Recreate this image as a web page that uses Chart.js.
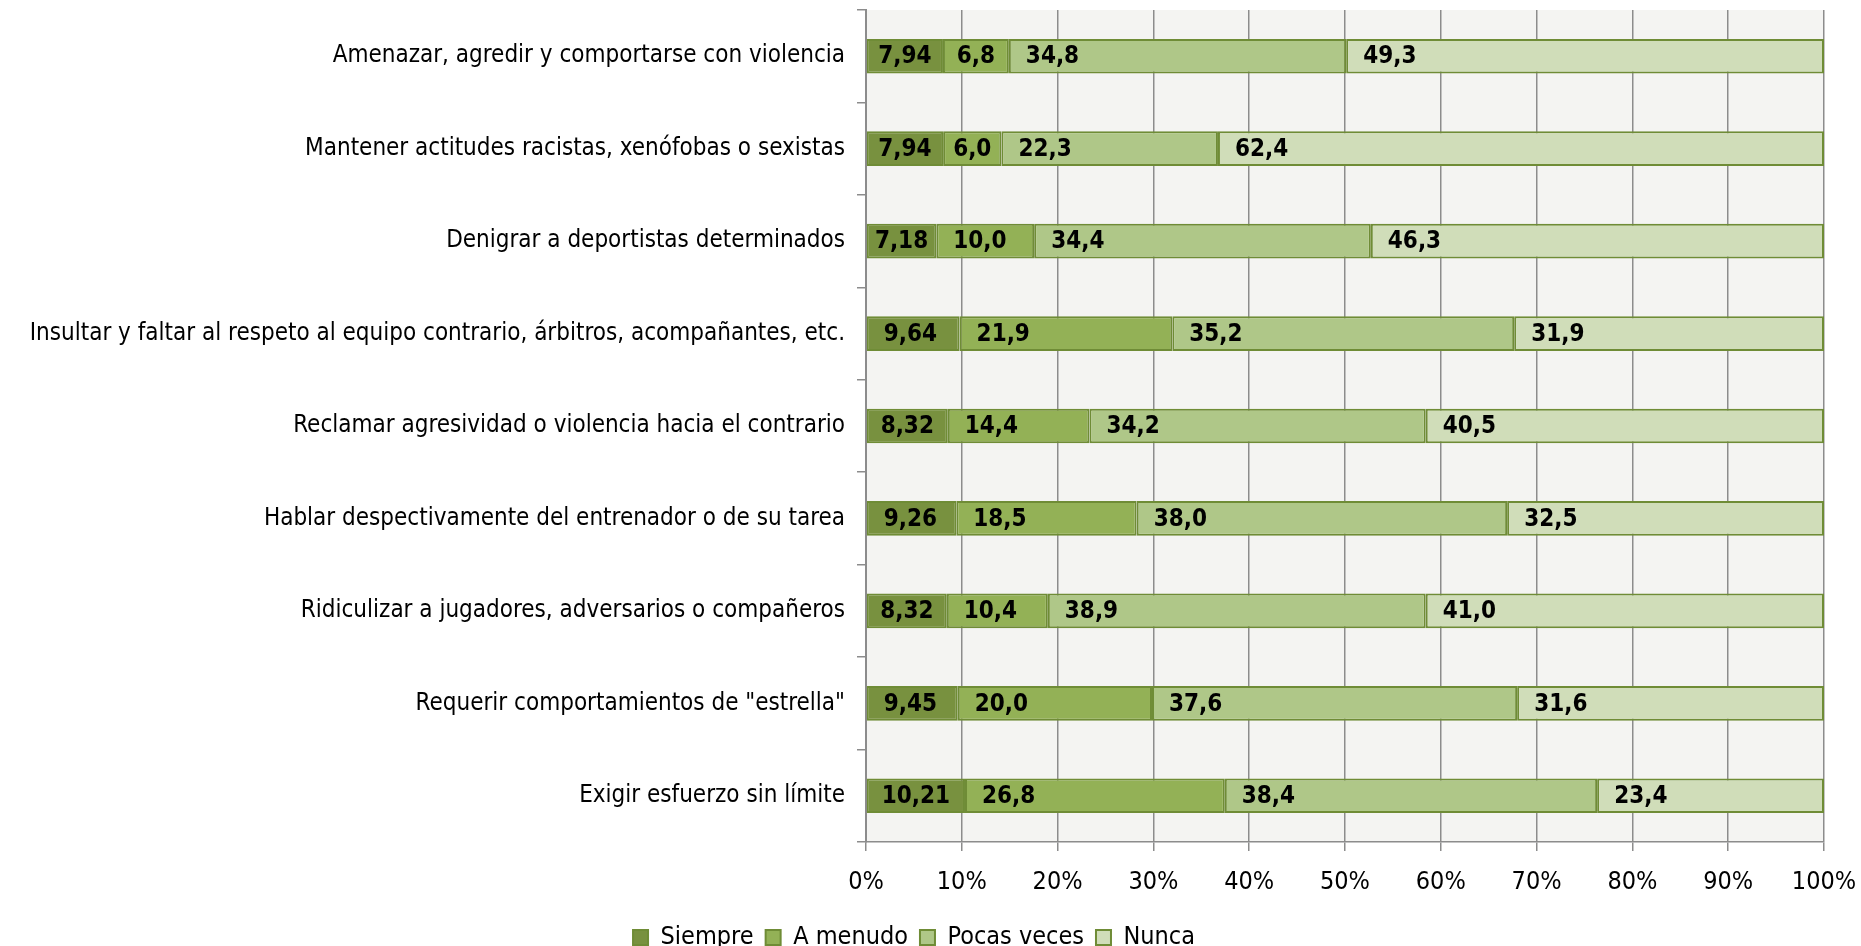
<!DOCTYPE html>
<html>
<head>
<meta charset="utf-8">
<script src="https://cdn.jsdelivr.net/npm/chart.js@4.4.0/dist/chart.umd.min.js"></script>
<style>
  html, body { margin: 0; padding: 0; background: #ffffff; }
  #wrap { width: 1861px; height: 946px; }
</style>
</head>
<body>
<div id="wrap"><canvas id="chart"></canvas></div>
<script>
const categories = [
    "Amenazar, agredir y comportarse con violencia",
    "Mantener actitudes racistas, xenófobas o sexistas",
    "Denigrar a deportistas determinados",
    "Insultar y faltar al respeto al equipo contrario, árbitros, acompañantes, etc.",
    "Reclamar agresividad o violencia hacia el contrario",
    "Hablar despectivamente del entrenador o de su tarea",
    "Ridiculizar a jugadores, adversarios o compañeros",
    "Requerir comportamientos de \"estrella\"",
    "Exigir esfuerzo sin límite"
];
const seriesNames = ["Siempre", "A menudo", "Pocas veces", "Nunca"];
const siempre    = [7.94, 7.94, 7.18, 9.64, 8.32, 9.26, 8.32, 9.45, 10.21];
const aMenudo    = [6.8, 6.0, 10.0, 21.9, 14.4, 18.5, 10.4, 20.0, 26.8];
const pocasVeces = [34.8, 22.3, 34.4, 35.2, 34.2, 38.0, 38.9, 37.6, 38.4];
const nunca      = [49.3, 62.4, 46.3, 31.9, 40.5, 32.5, 41.0, 31.6, 23.4];
const decimals   = [2, 1, 1, 1];
const xTicks     = [0, 10, 20, 30, 40, 50, 60, 70, 80, 90, 100];

const fills   = ["#78913f", "#93b156", "#afc788", "#d0ddb9"];
const border  = "#6f8c36";
const gridCol = "#8c8c8c";
const narrow  = '"DejaVu Sans Condensed", "Liberation Sans", sans-serif';

// 100% stacked: each row scaled to its own total
const rows = [siempre, aMenudo, pocasVeces, nunca];
const totals = categories.map((c, j) => rows.reduce((t, r) => t + r[j], 0));

const datasets = rows.map((r, i) => ({
    label: seriesNames[i],
    raw: r,
    data: r.map((v, j) => v / totals[j] * 100),
    backgroundColor: fills[i],
    borderColor: border,
    borderWidth: 2,
    borderSkipped: false,
    categoryPercentage: 1,
    barPercentage: 0.375
}));

const plotBackground = {
    id: "plotBackground",
    beforeDraw(chart) {
        const a = chart.chartArea;
        const ctx = chart.ctx;
        ctx.save();
        ctx.fillStyle = "#f4f4f2";
        ctx.fillRect(a.left, a.top, a.right - a.left, a.bottom - a.top);
        ctx.restore();
    }
};

const valueLabels = {
    id: "valueLabels",
    afterDatasetsDraw(chart) {
        const ctx = chart.ctx;
        ctx.save();
        ctx.font = "bold 24px " + narrow;
        ctx.fillStyle = "#000";
        ctx.textBaseline = "middle";
        ctx.textAlign = "left";
        chart.data.datasets.forEach((ds, i) => {
            chart.getDatasetMeta(i).data.forEach((bar, j) => {
                const txt = ds.raw[j].toFixed(decimals[i]).replace(".", ",");
                const w = bar.x - bar.base;
                const tw = ctx.measureText(txt).width;
                let off = Math.min((w - tw) / 2, 17);
                if (off < 2) off = 2;
                ctx.fillText(txt, bar.base + off, bar.y + 1);
            });
        });
        ctx.restore();
    }
};

new Chart(document.getElementById("chart"), {
    type: "bar",
    data: { labels: categories, datasets: datasets },
    options: {
        indexAxis: "y",
        responsive: true,
        maintainAspectRatio: false,
        animation: false,
        layout: { autoPadding: false, padding: { left: 4, right: 37, top: 10, bottom: -14 } },
        scales: {
            x: {
                stacked: true,
                min: 0,
                max: 100,
                afterBuildTicks: (s) => { s.ticks = xTicks.map(v => ({ value: v })); },
                afterFit: (s) => { s.paddingLeft = 0; s.paddingRight = 0; },
                ticks: {
                    callback: (v) => v + "%",
                    color: "#000",
                    font: { family: narrow, size: 25 },
                    padding: 16,
                    maxRotation: 0
                },
                grid: { color: gridCol, lineWidth: 1.5, tickLength: 9, drawTicks: true },
                border: { color: gridCol, width: 1.5 }
            },
            y: {
                stacked: true,
                afterFit: (s) => { s.width = 862; s.paddingTop = 0; s.paddingBottom = 0; },
                ticks: {
                    color: "#000",
                    font: { family: narrow, size: 24 },
                    padding: 12,
                    autoSkip: false
                },
                grid: { offset: true, drawOnChartArea: false, color: gridCol, lineWidth: 1.5, tickLength: 9 },
                border: { color: gridCol, width: 2 }
            }
        },
        plugins: {
            legend: {
                position: "bottom",
                labels: {
                    color: "#000",
                    font: { family: narrow, size: 25 },
                    boxWidth: 15,
                    boxHeight: 15,
                    padding: 12
                }
            },
            tooltip: { enabled: false }
        }
    },
    plugins: [plotBackground, valueLabels]
});
</script>
</body>
</html>
